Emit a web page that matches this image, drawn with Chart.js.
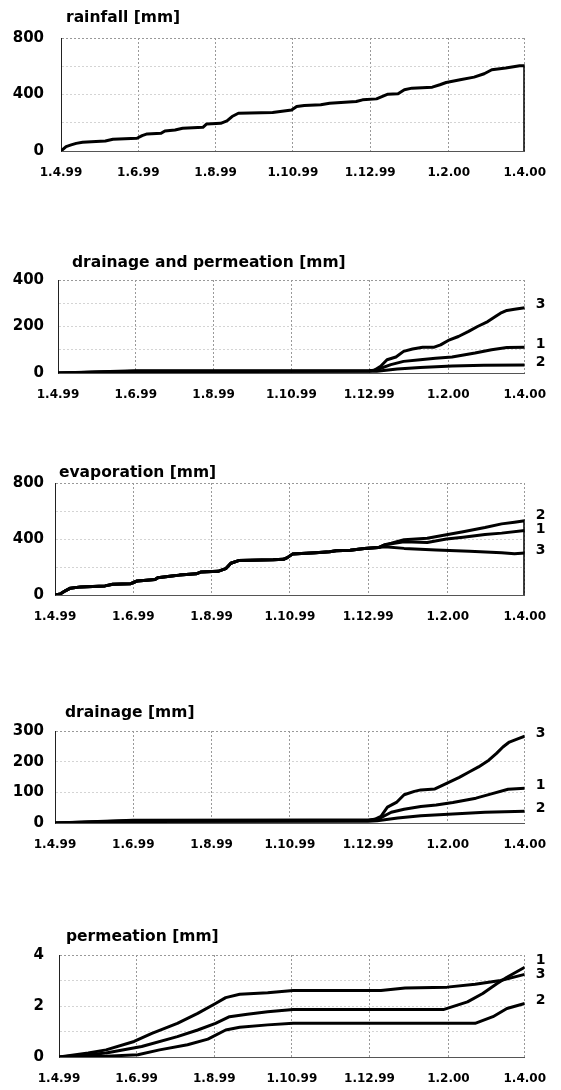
<!DOCTYPE html>
<html>
<head>
<meta charset="utf-8">
<script src="https://cdn.jsdelivr.net/npm/chart.js@4.4.1/dist/chart.umd.min.js"></script>
<style>
  body { margin: 0; background: #fff; width: 561px; height: 1090px; position: relative; overflow: hidden; }
</style>
</head>
<body>
<script>
// x axis: days counted from 1.4.99
const tickDays = [0, 61, 122, 183, 244, 306, 366];
const tickLabels = ['1.4.99', '1.6.99', '1.8.99', '1.10.99', '1.12.99', '1.2.00', '1.4.00'];

// rainfall [mm]
const rainDays = [0, 4, 8, 12, 17, 24, 35, 41, 60, 64, 68, 79, 82, 90, 96, 112, 115, 126, 131, 135, 140, 167, 182, 186, 192, 205, 212, 233, 238, 249, 258, 266, 271, 277, 293, 299, 304, 315, 326, 334, 340, 351, 362, 366, 366];
const rainMm   = [0, 31, 43, 54, 62, 66, 71, 83, 90, 109, 121, 125, 142, 149, 161, 168, 192, 196, 213, 244, 267, 272, 291, 315, 322, 327, 338, 350, 362, 369, 402, 405, 433, 445, 452, 469, 485, 504, 523, 547, 575, 587, 604, 604, 0];

// drainage and permeation [mm]
const dp3Days = [0, 61, 244, 248, 253, 258, 265, 271, 278, 286, 295, 300, 306, 314, 322, 329, 337, 343, 347, 352, 358, 366];
const dp3Mm   = [0, 10, 11, 12, 29, 57, 69, 93, 103, 111, 111, 121, 140, 157, 179, 200, 221, 243, 257, 269, 274, 281];
const dp1Days = [0, 61, 244, 250, 261, 271, 284, 296, 309, 327, 340, 352, 366];
const dp1Mm   = [0, 8, 9, 14, 36, 50, 57, 63, 69, 86, 100, 110, 111];
const dp2Days = [0, 61, 244, 250, 266, 284, 309, 334, 366];
const dp2Mm   = [0, 6, 7, 8, 17, 24, 30, 33, 34];

// evaporation [mm]: common part, then the three variants
const evDays = [0, 4, 8, 12, 20, 39, 45, 59, 64, 69, 78, 80, 91, 97, 110, 114, 127, 133, 137, 143, 170, 178, 181, 185, 192, 203, 214, 219, 230, 241, 252];
const evMm   = [0, 7, 30, 49, 58, 65, 77, 81, 100, 104, 111, 123, 135, 142, 151, 165, 169, 188, 227, 246, 251, 255, 267, 292, 297, 302, 309, 316, 320, 332, 339];
const ev2Days = [257, 262, 272, 290, 305, 318, 335, 348, 358, 366, 366];
const ev2Mm   = [360, 370, 395, 405, 430, 452, 482, 508, 520, 530, 0];
const ev1Days = [257, 272, 290, 305, 318, 335, 348, 366];
const ev1Mm   = [358, 380, 375, 400, 413, 432, 442, 460];
const ev3Days = [257, 272, 297, 323, 348, 358, 366];
const ev3Mm   = [345, 333, 322, 312, 302, 295, 300];

// drainage [mm]
const dr3Days = [0, 61, 200, 244, 249, 254, 259, 266, 272, 280, 285, 296, 301, 308, 315, 323, 330, 338, 344, 349, 354, 361, 366];
const dr3Mm   = [0, 9, 10, 10, 12, 22, 52, 67, 92, 103, 108, 111, 121, 135, 149, 167, 183, 205, 227, 248, 264, 275, 283];
const dr1Days = [0, 61, 244, 251, 262, 272, 285, 297, 310, 328, 340, 353, 366];
const dr1Mm   = [0, 7, 8, 11, 35, 45, 54, 59, 67, 81, 95, 110, 113];
const dr2Days = [0, 61, 244, 251, 267, 285, 310, 335, 366];
const dr2Mm   = [0, 5, 6, 7, 16, 24, 29, 35, 38];

// permeation [mm]
const pm1Days = [0, 23, 37, 65, 93, 109, 123, 134, 148, 164, 184, 302, 321, 333, 344, 352, 366];
const pm1Mm   = [0, 0.09, 0.16, 0.41, 0.80, 1.06, 1.32, 1.58, 1.68, 1.77, 1.86, 1.86, 2.16, 2.49, 2.87, 3.13, 3.52];
const pm3Days = [0, 23, 37, 59, 73, 93, 109, 123, 131, 142, 164, 184, 253, 272, 305, 327, 347, 366];
const pm3Mm   = [0, 0.155, 0.28, 0.61, 0.93, 1.32, 1.71, 2.1, 2.33, 2.46, 2.52, 2.61, 2.61, 2.71, 2.74, 2.85, 3.0, 3.24];
const pm2Days = [0, 37, 62, 79, 101, 117, 131, 142, 164, 184, 327, 341, 352, 366];
const pm2Mm   = [0, 0.03, 0.09, 0.28, 0.48, 0.70, 1.06, 1.17, 1.26, 1.32, 1.32, 1.58, 1.90, 2.10];

// layout of the five panels (plot box left, right, top, bottom in page pixels)
const panels = [
  { title: 'rainfall [mm]', box: [61, 538, 38, 151], titleAt: [66, 18], yMax: 800, yGrid: 200, yLabel: 400,
    series: [[rainDays, rainMm, '']] },
  { title: 'drainage and permeation [mm]', box: [58, 538, 280, 373], titleAt: [72, 263], yMax: 400, yGrid: 100, yLabel: 200,
    series: [[dp3Days, dp3Mm, '3'], [dp1Days, dp1Mm, '1'], [dp2Days, dp2Mm, '2']] },
  { title: 'evaporation [mm]', box: [55, 537, 483, 595], titleAt: [59, 473], yMax: 800, yGrid: 200, yLabel: 400,
    series: [[evDays.concat(ev2Days), evMm.concat(ev2Mm), '2'], [evDays.concat(ev1Days), evMm.concat(ev1Mm), '1'], [evDays.concat(ev3Days), evMm.concat(ev3Mm), '3']] },
  { title: 'drainage [mm]', box: [55, 537, 731, 823], titleAt: [65, 713], yMax: 300, yGrid: 100, yLabel: 100,
    series: [[dr3Days, dr3Mm, '3'], [dr1Days, dr1Mm, '1'], [dr2Days, dr2Mm, '2']] },
  { title: 'permeation [mm]', box: [59, 533, 955, 1057], titleAt: [66, 937], yMax: 4, yGrid: 1, yLabel: 2,
    series: [[pm1Days, pm1Mm, '1'], [pm3Days, pm3Mm, '3'], [pm2Days, pm2Mm, '2']] }
];

const FONT = 'DejaVu Sans';

function makePanel(p) {
  const [left, right, top, bottom] = p.box;
  const padTop = 50, axisH = 40;
  const canvasTop = top - padTop;
  const h = bottom - top + padTop + axisH;

  const cv = document.createElement('canvas');
  cv.width = 561;
  cv.height = h;
  cv.style.cssText = 'position:absolute;left:0;top:' + canvasTop + 'px';
  document.body.appendChild(cv);

  // title and the 1/2/3 tags at the right end of the curves
  const panelText = {
    id: 'panelText',
    afterDraw(chart) {
      const ctx = chart.ctx;
      const ys = chart.scales.y;
      ctx.save();
      ctx.fillStyle = '#000';
      ctx.textBaseline = 'middle';
      ctx.textAlign = 'left';
      ctx.font = 'bold 15.5px "' + FONT + '"';
      ctx.fillText(p.title, p.titleAt[0], p.titleAt[1] - canvasTop);

      const tags = [];
      chart.data.datasets.forEach(ds => {
        if (!ds.tag) return;
        let last = ds.data[ds.data.length - 1];
        if (last.y === 0 && ds.data.length > 1) last = ds.data[ds.data.length - 2];
        tags.push({ text: ds.tag, y: ys.getPixelForValue(last.y) - 3 });
      });
      tags.sort((a, b) => a.y - b.y);
      for (let i = 1; i < tags.length; i++) {
        const gap = tags[i].y - tags[i - 1].y;
        if (gap < 14) {
          const d = (14 - gap) / 2;
          tags[i - 1].y -= d;
          tags[i].y += d;
        }
      }
      ctx.font = 'bold 14px "' + FONT + '"';
      tags.forEach(t => ctx.fillText(t.text, chart.chartArea.right + 11, t.y));
      ctx.restore();
    }
  };

  new Chart(cv, {
    type: 'line',
    data: {
      datasets: p.series.map(s => ({
        data: s[0].map((d, i) => ({ x: d, y: s[1][i] })),
        tag: s[2],
        borderColor: '#000',
        borderWidth: 3,
        borderJoinStyle: 'round',
        pointRadius: 0,
        tension: 0,
        fill: false
      }))
    },
    options: {
      responsive: false,
      animation: false,
      devicePixelRatio: 1,
      layout: { padding: { left: 0, right: 561 - right, top: padTop, bottom: 0 } },
      plugins: { legend: { display: false }, tooltip: { enabled: false } },
      scales: {
        x: {
          type: 'linear',
          min: 0,
          max: 366,
          afterBuildTicks: sc => { sc.ticks = tickDays.map(v => ({ value: v })); },
          afterFit: sc => { sc.height = axisH; },
          ticks: {
            autoSkip: false,
            maxRotation: 0,
            padding: 15,
            color: '#000',
            font: { family: FONT, weight: 'bold', size: 12 },
            callback: v => tickLabels[tickDays.indexOf(v)]
          },
          grid: {
            drawTicks: false,
            color: c => (c.tick && c.tick.value === 0) ? 'rgba(0,0,0,0)' : '#999'
          },
          border: { color: '#555', width: 1, dash: [2, 2] }
        },
        y: {
          min: 0,
          max: p.yMax,
          afterFit: sc => { sc.width = left; },
          ticks: {
            stepSize: p.yGrid,
            padding: left - 44,
            color: '#000',
            font: { family: FONT, weight: 'bold', size: 15 },
            callback: v => (Math.abs(v % p.yLabel) < 1e-9 ? v : '')
          },
          grid: {
            drawTicks: false,
            color: c => {
              if (!c.tick || c.tick.value === 0) return 'rgba(0,0,0,0)';
              return c.tick.value === p.yMax ? '#999' : '#d4d4d4';
            }
          },
          border: { color: '#222', width: 1, dash: [2, 2] }
        }
      }
    },
    plugins: [panelText]
  });
}

panels.forEach(makePanel);
</script>
</body>
</html>
